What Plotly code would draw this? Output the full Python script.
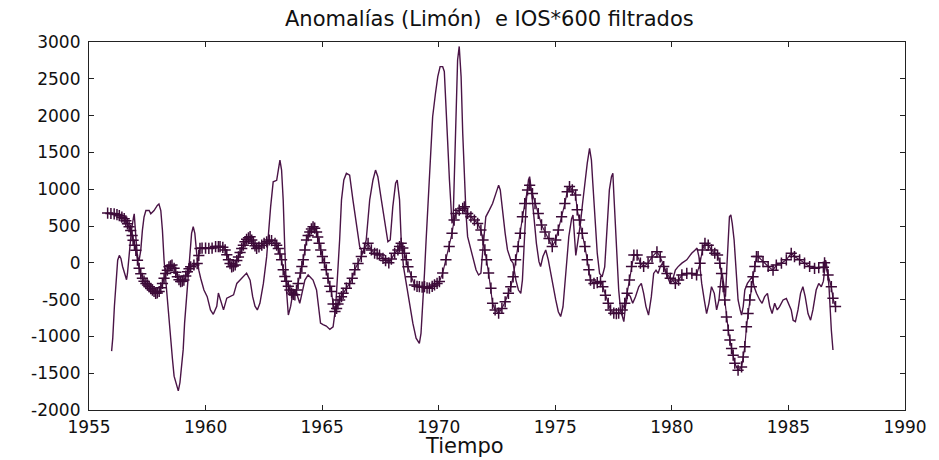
import plotly.graph_objects as go

# Solid line series: Anomalías (Limón), filtered
anom_year = [
    1955.97, 1956.02, 1956.09, 1956.16, 1956.23, 1956.30, 1956.37, 1956.44, 1956.51, 1956.61,
    1956.65, 1956.72, 1956.76, 1956.82, 1956.91, 1956.94, 1957.01, 1957.08, 1957.15, 1957.22,
    1957.29, 1957.36, 1957.44, 1957.58, 1957.65, 1957.79, 1957.93, 1958.00, 1958.08, 1958.15,
    1958.22, 1958.29, 1958.36, 1958.43, 1958.50, 1958.58, 1958.65, 1958.76, 1958.83, 1958.90,
    1958.96, 1959.04, 1959.10, 1959.19, 1959.26, 1959.33, 1959.40, 1959.47, 1959.54, 1959.62,
    1959.71, 1959.79, 1959.93, 1960.07, 1960.21, 1960.33, 1960.48, 1960.55, 1960.62, 1960.77,
    1960.91, 1961.05, 1961.20, 1961.34, 1961.48, 1961.62, 1961.76, 1961.91, 1962.02, 1962.12,
    1962.22, 1962.33, 1962.48, 1962.62, 1962.69, 1962.79, 1962.90, 1963.05, 1963.12, 1963.19,
    1963.26, 1963.33, 1963.40, 1963.47, 1963.55, 1963.65, 1963.76, 1963.90, 1964.04, 1964.16,
    1964.26, 1964.40, 1964.61, 1964.76, 1964.87, 1964.93, 1965.04, 1965.18, 1965.33, 1965.47,
    1965.58, 1965.68, 1965.75, 1965.83, 1965.93, 1966.04, 1966.18, 1966.32, 1966.47, 1966.61,
    1966.75, 1966.89, 1967.04, 1967.18, 1967.29, 1967.39, 1967.54, 1967.68, 1967.82, 1967.92,
    1968.03, 1968.15, 1968.22, 1968.32, 1968.39, 1968.49, 1968.60, 1968.75, 1968.89, 1969.03,
    1969.17, 1969.24, 1969.32, 1969.39, 1969.46, 1969.53, 1969.60, 1969.67, 1969.74, 1969.86,
    1969.96, 1970.06, 1970.17, 1970.24, 1970.31, 1970.38, 1970.46, 1970.53, 1970.57, 1970.62,
    1970.67, 1970.74, 1970.81, 1970.88, 1970.96, 1971.03, 1971.10, 1971.17, 1971.24, 1971.31,
    1971.38, 1971.48, 1971.60, 1971.71, 1971.81, 1971.88, 1971.95, 1972.02, 1972.17, 1972.31,
    1972.45, 1972.57, 1972.64, 1972.74, 1972.85, 1972.95, 1973.09, 1973.19, 1973.31, 1973.42,
    1973.52, 1973.59, 1973.66, 1973.76, 1973.85, 1973.90, 1973.99, 1974.09, 1974.19, 1974.30,
    1974.37, 1974.47, 1974.59, 1974.70, 1974.80, 1974.90, 1975.02, 1975.13, 1975.23, 1975.33,
    1975.44, 1975.51, 1975.58, 1975.70, 1975.76, 1975.83, 1975.88, 1975.95, 1976.08, 1976.17,
    1976.27, 1976.37, 1976.47, 1976.55, 1976.61, 1976.70, 1976.80, 1976.90, 1977.01, 1977.12,
    1977.23, 1977.32, 1977.41, 1977.47, 1977.51, 1977.58, 1977.65, 1977.72, 1977.80, 1977.87,
    1977.94, 1978.01, 1978.12, 1978.22, 1978.32, 1978.44, 1978.58, 1978.69, 1978.79, 1978.89,
    1979.00, 1979.12, 1979.22, 1979.32, 1979.41, 1979.50, 1979.60, 1979.72, 1979.83, 1979.93,
    1980.03, 1980.15, 1980.26, 1980.43, 1980.64, 1980.85, 1981.00, 1981.08, 1981.16, 1981.28,
    1981.39, 1981.49, 1981.59, 1981.70, 1981.82, 1981.92, 1982.02, 1982.10, 1982.16, 1982.25,
    1982.30, 1982.36, 1982.42, 1982.47, 1982.53, 1982.59, 1982.67, 1982.76, 1982.84, 1982.93,
    1982.99, 1983.06, 1983.13, 1983.24, 1983.34, 1983.44, 1983.53, 1983.63, 1983.77, 1983.87,
    1983.98, 1984.10, 1984.20, 1984.30, 1984.41, 1984.52, 1984.62, 1984.77, 1984.91, 1985.01,
    1985.12, 1985.20, 1985.30, 1985.41, 1985.52, 1985.62, 1985.72, 1985.84, 1985.95, 1986.05,
    1986.19, 1986.30, 1986.41, 1986.50, 1986.60, 1986.67, 1986.74, 1986.84, 1986.91,
]
anom_value = [
    -1200, -1020, -590, -230, 35, 100, 60, -50, -140, -230,
    -145, 80, 260, 440, 620, 665, 350, 80, 35, 170,
    440, 620, 710, 710, 665, 710, 780, 800, 710, 440,
    35, -230, -500, -860, -1090, -1310, -1540, -1670, -1740, -1630,
    -1400, -1180, -820, -460, -190, 80, 400, 490, 400, 125,
    -100, -210, -370, -460, -640, -700, -590, -410, -480, -640,
    -480, -460, -435, -280, -235, -190, -140, -235, -460, -590,
    -640, -550, -280, 80, 400, 760, 1100, 1120, 1260, 1395,
    1260, 850, 175, -370, -710, -590, -370, -410, -550, -370,
    -235, -165, -235, -370, -640, -820, -840, -860, -905, -870,
    -600, -140, 310, 855, 1125, 1215, 1190, 855, 490, 220,
    130, 310, 855, 1125, 1260, 1170, 855, 535, 285, 310,
    760, 1080, 1125, 855, 310, -55, -280, -550, -820, -1025,
    -1095, -960, -600, -140, 310, 760, 1125, 1575, 1985, 2300,
    2530, 2665, 2665, 2600, 2210, 1670, 1125, 760, 535, 600,
    1215, 2120, 2755, 2940, 2530, 1760, 1125, 670, 355, 265,
    195, 85, -95, -165, -140, 130, 445, 625, 715, 805,
    940, 1055, 990, 670, 400, 175, 40, -5, -235, -370,
    -415, -235, 310, 855, 1125, 1170, 940, 580, 265, 15,
    -50, 85, 175, 40, -140, -325, -505, -665, -730, -600,
    -235, 85, 355, 600, 650, 300, 100, 250, 535, 805,
    1125, 1350, 1555, 1395, 1080, 625, 130, -145, -190, -55,
    535, 990, 1170, 1215, 945, 445, -55, -370, -640, -730,
    -800, -595, -415, -460, -550, -460, -325, -280, -415, -595,
    -710, -460, -145, -100, -145, -55, -5, -120, -210, -280,
    -235, -100, -55, -5, 40, 130, 175, 200, 85, -280,
    -505, -690, -550, -325, -415, -640, -505, -235, -145, -325,
    -460, -50, 265, 625, 650, 535, 310, -145, -505, -640,
    -710, -595, -370, -280, -235, -190, -325, -415, -505, -550,
    -460, -415, -595, -690, -550, -640, -595, -505, -485, -550,
    -640, -780, -800, -640, -415, -325, -460, -690, -780, -640,
    -370, -280, -325, -250, 38, -100, -325, -913, -1185,
]

# Series with "+" markers: IOS*600, filtered
ios_year = [
    1955.80, 1955.94, 1956.08, 1956.20, 1956.30, 1956.41, 1956.51, 1956.58, 1956.65, 1956.72,
    1956.79, 1956.85, 1956.89, 1956.95, 1957.01, 1957.08, 1957.15, 1957.22, 1957.29, 1957.36,
    1957.44, 1957.51, 1957.58, 1957.65, 1957.72, 1957.79, 1957.86, 1957.93, 1958.01, 1958.08,
    1958.15, 1958.22, 1958.29, 1958.36, 1958.43, 1958.50, 1958.56, 1958.65, 1958.72, 1958.79,
    1958.86, 1958.93, 1959.00, 1959.07, 1959.15, 1959.22, 1959.29, 1959.36, 1959.50, 1959.64,
    1959.71, 1959.76, 1959.85, 1960.00, 1960.14, 1960.28, 1960.43, 1960.55, 1960.62, 1960.74,
    1960.84, 1960.91, 1960.98, 1961.05, 1961.12, 1961.19, 1961.27, 1961.34, 1961.41, 1961.48,
    1961.55, 1961.62, 1961.69, 1961.76, 1961.84, 1961.91, 1961.98, 1962.05, 1962.12, 1962.19,
    1962.29, 1962.41, 1962.51, 1962.62, 1962.73, 1962.83, 1962.98, 1963.05, 1963.12, 1963.19,
    1963.26, 1963.33, 1963.40, 1963.47, 1963.55, 1963.62, 1963.69, 1963.76, 1963.83, 1963.90,
    1963.97, 1964.07, 1964.13, 1964.19, 1964.26, 1964.33, 1964.40, 1964.47, 1964.54, 1964.61,
    1964.68, 1964.76, 1964.81, 1964.87, 1964.94, 1965.01, 1965.10, 1965.18, 1965.25, 1965.33,
    1965.40, 1965.47, 1965.55, 1965.62, 1965.68, 1965.75, 1965.83, 1965.90, 1966.04, 1966.18,
    1966.29, 1966.40, 1966.54, 1966.68, 1966.82, 1966.97, 1967.11, 1967.25, 1967.36, 1967.46,
    1967.61, 1967.72, 1967.86, 1967.97, 1968.11, 1968.25, 1968.32, 1968.39, 1968.46, 1968.53,
    1968.61, 1968.68, 1968.82, 1968.96, 1969.07, 1969.17, 1969.29, 1969.39, 1969.50, 1969.60,
    1969.72, 1969.82, 1969.93, 1970.03, 1970.17, 1970.31, 1970.45, 1970.57, 1970.66, 1970.74,
    1970.88, 1971.03, 1971.10, 1971.24, 1971.38, 1971.53, 1971.67, 1971.81, 1971.90, 1971.98,
    1972.05, 1972.14, 1972.24, 1972.31, 1972.42, 1972.57, 1972.71, 1972.85, 1972.99, 1973.09,
    1973.19, 1973.30, 1973.41, 1973.50, 1973.59, 1973.69, 1973.81, 1973.90, 1974.02, 1974.13,
    1974.27, 1974.41, 1974.56, 1974.73, 1974.87, 1975.02, 1975.13, 1975.27, 1975.41, 1975.51,
    1975.61, 1975.73, 1975.87, 1975.94, 1976.04, 1976.16, 1976.27, 1976.37, 1976.44, 1976.51,
    1976.66, 1976.80, 1976.94, 1977.04, 1977.15, 1977.27, 1977.37, 1977.51, 1977.62, 1977.72,
    1977.87, 1977.98, 1978.08, 1978.18, 1978.27, 1978.37, 1978.51, 1978.65, 1978.79, 1978.98,
    1979.15, 1979.36, 1979.50, 1979.65, 1979.79, 1979.93, 1980.15, 1980.29, 1980.43, 1980.64,
    1980.86, 1981.06, 1981.21, 1981.31, 1981.42, 1981.56, 1981.70, 1981.84, 1981.96, 1982.06,
    1982.13, 1982.20, 1982.27, 1982.34, 1982.42, 1982.49, 1982.56, 1982.63, 1982.70, 1982.84,
    1982.99, 1983.06, 1983.13, 1983.20, 1983.27, 1983.34, 1983.41, 1983.48, 1983.56, 1983.63,
    1983.70, 1983.91, 1984.13, 1984.34, 1984.48, 1984.70, 1984.91, 1985.12, 1985.26, 1985.48,
    1985.69, 1985.91, 1986.12, 1986.30, 1986.50, 1986.55, 1986.70, 1986.84, 1986.91, 1987.02,
]
ios_value = [
    675, 670, 665, 655, 640, 620, 600, 570, 530, 490,
    440, 370, 305, 240, 170, 35, -75, -150, -210, -250,
    -280, -300, -325, -350, -370, -390, -415, -410, -390, -340,
    -280, -210, -145, -100, -55, -40, -30, -75, -130, -190,
    -230, -255, -250, -235, -180, -120, -80, -55, -30, -10,
    100, 195, 200, 200, 195, 200, 220, 220, 220, 210,
    175, 110, 40, -10, -55, -45, -30, 30, 80, 140,
    195, 240, 285, 320, 340, 355, 310, 265, 230, 195,
    215, 240, 265, 285, 310, 300, 265, 240, 195, 120,
    40, -95, -185, -250, -320, -370, -410, -430, -435, -370,
    -280, -140, -50, 40, 175, 310, 370, 420, 460, 490,
    470, 420, 350, 265, 175, 85, 0, -95, -210, -320,
    -390, -560, -660, -620, -560, -505, -460, -415, -345, -280,
    -210, -95, -10, 85, 195, 265, 175, 130, 120, 105,
    60, 30, 0, 50, 130, 175, 220, 265, 200, 130,
    40, -55, -190, -300, -320, -325, -330, -325, -340, -345,
    -320, -300, -280, -255, -140, 40, 220, 400, 580, 670,
    715, 740, 760, 670, 625, 580, 535, 445, 310, 175,
    40, -140, -345, -550, -640, -685, -620, -530, -415, -325,
    -190, 40, 220, 400, 625, 805, 990, 1055, 940, 805,
    670, 515, 420, 330, 220, 310, 445, 625, 805, 965,
    1035, 990, 920, 720, 580, 400, 220, 40, -95, -235,
    -280, -270, -255, -325, -440, -550, -640, -685, -690, -685,
    -640, -550, -415, -235, -50, 105, 105, -5, -50, -5,
    80, 150, 80, -50, -145, -210, -280, -235, -165, -145,
    -145, -165, -5, 175, 265, 240, 175, 130, 105, -5,
    -145, -325, -505, -735, -915, -1050, -1165, -1255, -1365, -1460,
    -1415, -1280, -1140, -870, -690, -505, -325, -190, -50, 85,
    85, 15, -50, -100, -30, -5, 40, 130, 85, 40,
    -5, -50, -75, -65, -60, 0, -165, -325, -480, -595,
]

x_ticks = [1955, 1960, 1965, 1970, 1975, 1980, 1985, 1990]
y_ticks = [-2000, -1500, -1000, -500, 0, 500, 1000, 1500, 2000, 2500, 3000]

title_text = "Anomalías (Limón)  e IOS*600 filtrados"
x_label = "Tiempo"

color = "#4a1446"
font_family = "DejaVu Sans, Arial, sans-serif"

fig = go.Figure()
fig.add_trace(go.Scatter(
    x=anom_year, y=anom_value, mode="lines",
    line=dict(color=color, width=1.4),
    showlegend=False,
))
fig.add_trace(go.Scatter(
    x=ios_year, y=ios_value, mode="lines+markers",
    line=dict(color=color, width=1.2),
    marker=dict(symbol="cross-thin", size=8, line=dict(color="#3c0a38", width=1.5)),
    showlegend=False,
))

axis_common = dict(
    showgrid=False, zeroline=False, showline=True, linecolor="#222222", linewidth=1.2,
    mirror="ticks", ticks="inside", ticklen=5, tickcolor="#222222", tickwidth=1.2,
    tickfont=dict(family=font_family, size=17, color="#111111"),
)

fig.update_layout(
    width=939, height=460,
    margin=dict(l=89, r=30, t=42, b=50),
    paper_bgcolor="white", plot_bgcolor="white",
    xaxis=dict(range=[1955, 1990], tickvals=x_ticks, ticktext=[str(v) for v in x_ticks],
               ticklabelstandoff=1, **axis_common),
    yaxis=dict(range=[-2000, 3000], tickvals=y_ticks, ticktext=[str(v) for v in y_ticks],
               ticklabelstandoff=4, **axis_common),
    annotations=[
        dict(text=title_text, xref="paper", yref="paper", x=0.491, y=1.0, yshift=23,
             xanchor="center", yanchor="middle", showarrow=False,
             font=dict(family=font_family, size=21, color="#111111")),
        dict(text=x_label, xref="paper", yref="paper", x=0.46, y=-0.098,
             xanchor="center", yanchor="middle", showarrow=False,
             font=dict(family=font_family, size=21, color="#111111")),
    ],
)

fig.write_html("out.html")
